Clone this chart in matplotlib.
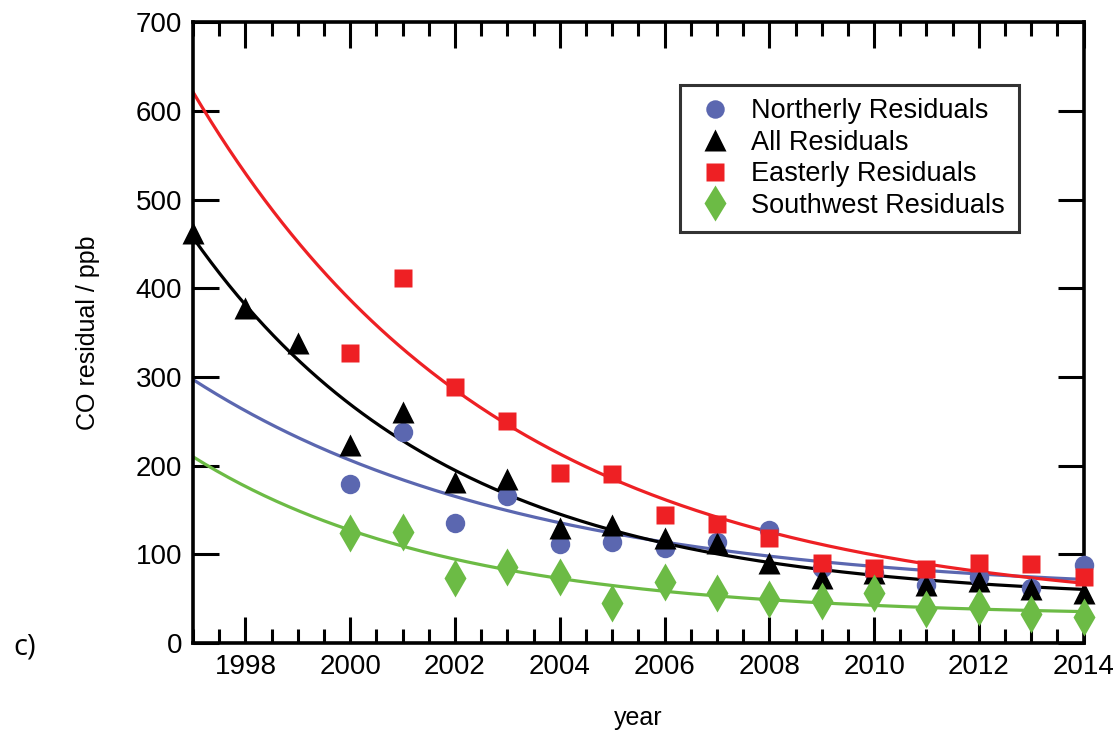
import matplotlib
matplotlib.use("Agg")
import matplotlib.pyplot as plt
from matplotlib.ticker import MultipleLocator
import numpy as np

# data (CO residuals, ppb)
years_all = np.arange(1997, 2015)
all_res = [462, 378, 338, 223, 260, 182, 185, 130, 133, 119, 113, 90, 73, 79, 66, 70, 61, 57]

years = np.arange(2000, 2015)
north_res = [179, 238, 135, 166, 112, 114, 107, 114, 127, 85, 79, 65, 75, 62, 88]
east_res = [327, 412, 289, 250, 192, 191, 144, 134, 118, 90, 85, 83, 90, 89, 75]
sw_res = [124, 125, 73, 86, 75, 45, 69, 56, 50, 47, 57, 38, 41, 33, 30]

# fitted decay curves a*exp(-k*(t-1997)) + c, parameters estimated from the plot
fit_north = (242, 0.157, 55)
fit_all = (409, 0.205, 48)
fit_east = (586, 0.170, 35)
fit_sw = (180, 0.205, 30)

c_blue = "#5b67b0"
c_red = "#ee2024"
c_green = "#6cbb45"
c_black = "black"

plt.rcParams['font.family'] = ['Liberation Sans', 'DejaVu Sans']

fig = plt.figure(figsize=(11.16, 7.35), dpi=100)
ax = fig.add_axes([0.173, 0.125, 0.798, 0.845])

t = np.linspace(1997, 2014, 300)
def curve(p):
    a, k, c = p
    return a * np.exp(-k * (t - 1997)) + c

ax.plot(t, curve(fit_north), color=c_blue, lw=2.3, zorder=2)
ax.plot(t, curve(fit_all), color=c_black, lw=2.3, zorder=2)
ax.plot(t, curve(fit_east), color=c_red, lw=2.3, zorder=2)
ax.plot(t, curve(fit_sw), color=c_green, lw=2.3, zorder=2)

ax.plot(years, north_res, 'o', color=c_blue, ms=14, mec='none', label='Northerly Residuals', zorder=3, clip_on=False)
ax.plot(years_all, all_res, '^', color=c_black, ms=16, mec='none', label='All Residuals', zorder=4, clip_on=False)
ax.plot(years, east_res, 's', color=c_red, ms=13, mec='none', label='Easterly Residuals', zorder=5, clip_on=False)
ax.plot(years, sw_res, 'd', color=c_green, ms=19, mec='none', label='Southwest Residuals', zorder=6, clip_on=False)

ax.set_xlim(1997, 2014)
ax.set_ylim(0, 700)
ax.xaxis.set_major_locator(MultipleLocator(2))
ax.xaxis.set_minor_locator(MultipleLocator(0.5))
ax.yaxis.set_major_locator(MultipleLocator(100))

ax.tick_params(which='both', direction='in', top=True, right=True, width=2.2, labelsize=20)
ax.tick_params(which='major', length=19, pad=8)
ax.tick_params(which='minor', length=10)
ax.tick_params(axis='y', which='minor', left=False, right=False)
for s in ax.spines.values():
    s.set_linewidth(2.6)

ax.set_xlabel('year', fontsize=18)
ax.set_ylabel('CO residual / ppb', fontsize=18)
ax.xaxis.set_label_coords(0.5, -0.102)
ax.yaxis.set_label_coords(-0.105, 0.5)

leg = ax.legend(loc='upper right', bbox_to_anchor=(0.927, 0.899), fontsize=19.5, frameon=True,
                fancybox=False, handletextpad=0.55, labelspacing=0.2, borderpad=0.5,
                handlelength=1.6, markerscale=0.95, borderaxespad=0)
leg.get_frame().set_edgecolor('black')
leg.get_frame().set_linewidth(2.2)

fig.text(0.012, 0.109, 'c)', fontsize=21, va='baseline', family=['Open Sans', 'DejaVu Sans'])

fig.savefig('out.png', dpi=100)
